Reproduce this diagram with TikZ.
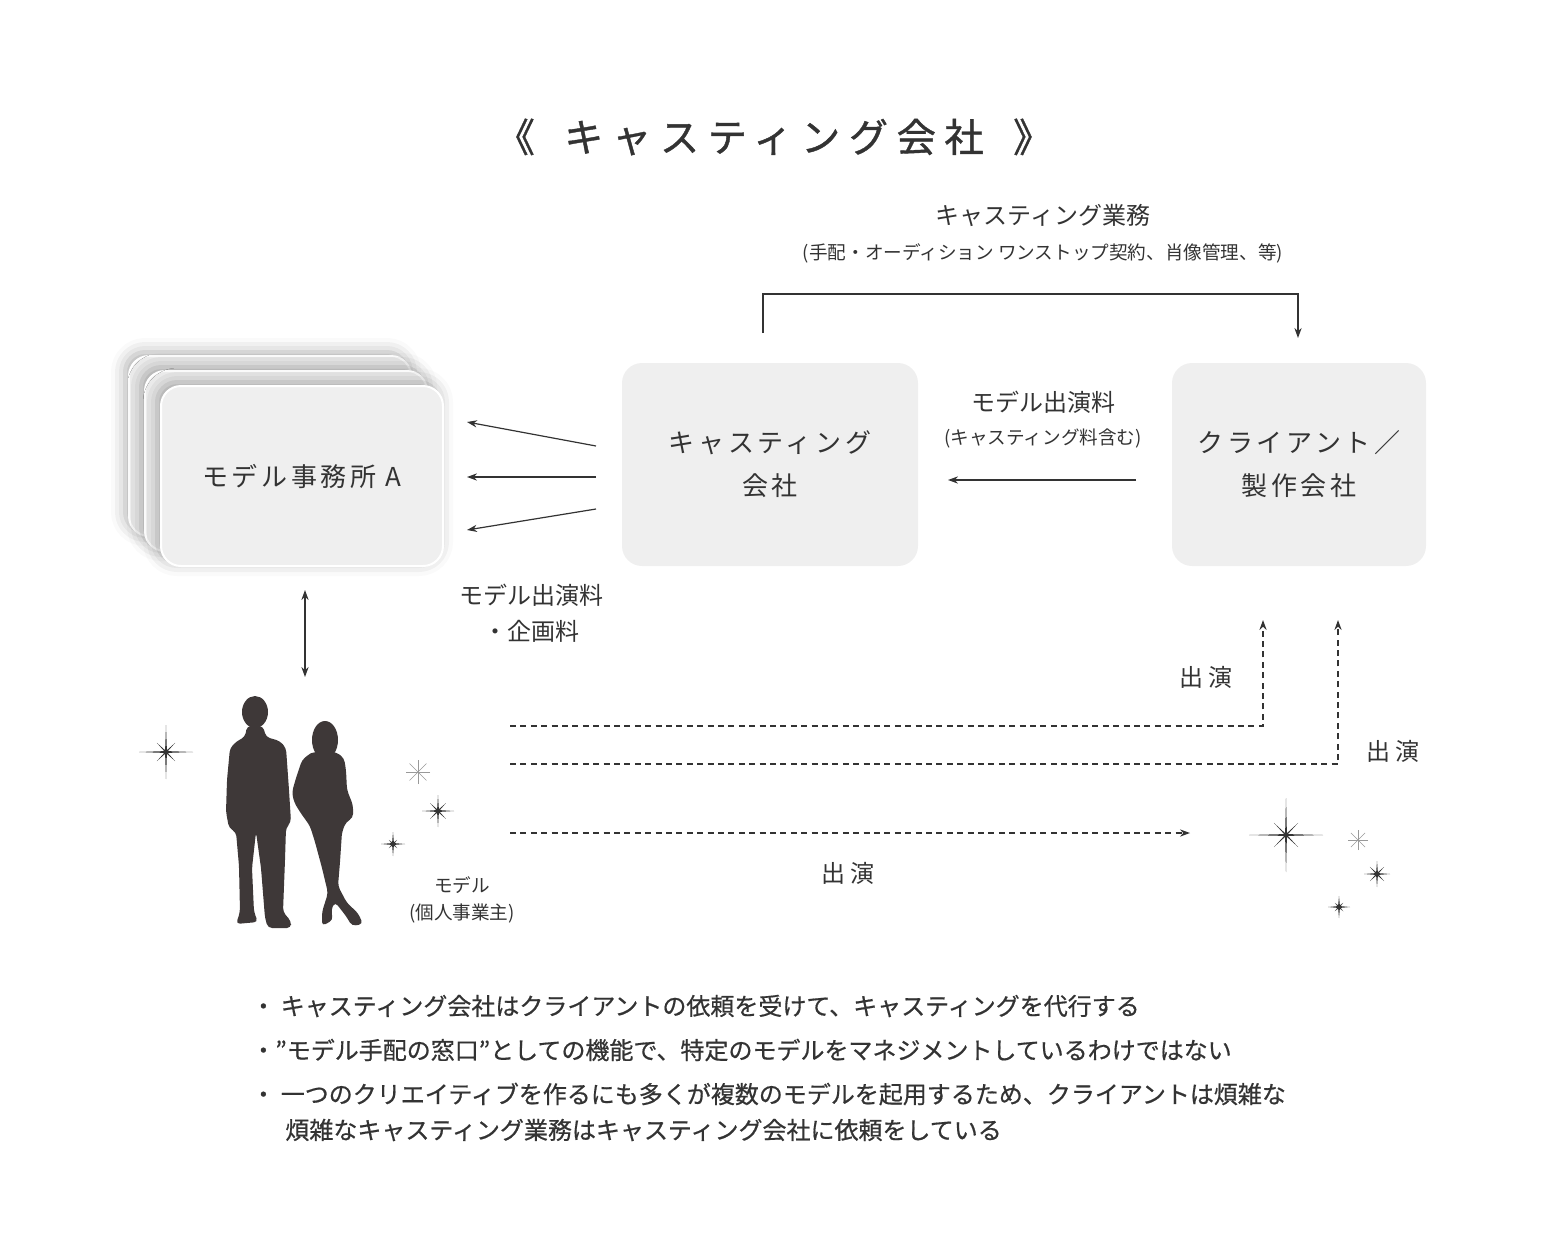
\documentclass[tikz,border=0pt]{standalone}
\usepackage{fontspec}
\setmainfont{Noto Sans CJK JP}
\usepackage{tikz}
\usetikzlibrary{arrows.meta,shadows.blur}

\definecolor{ink}{HTML}{333333}
\definecolor{boxgray}{HTML}{EFEFEF}
\definecolor{figgray}{HTML}{3E3838}

\newcommand{\titlefont}{\fontsize{19.6pt}{23pt}\selectfont\addfontfeature{LetterSpace=22,FakeBold=1}}
\newcommand{\boxfont}{\fontsize{13pt}{21.5pt}\selectfont\addfontfeature{LetterSpace=14}}
\newcommand{\feefont}{\fontsize{12pt}{18pt}\selectfont}
\newcommand{\smallfont}{\fontsize{9.3pt}{13.5pt}\selectfont}
\newcommand{\notefont}{\fontsize{12pt}{16pt}\selectfont\addfontfeature{FakeBold=0.6}}

% sparkle: centre, long ray, short ray
\newcommand{\twinkle}[3]{%
  \fill[ink, shift={#1}] (0:#2) -- (45:1.3) -- (90:#2) -- (135:1.3) -- (180:#2)
    -- (225:1.3) -- (270:#2) -- (315:1.3) -- cycle;
  \fill[ink, shift={#1}] (45:#3) -- (90:1) -- (135:#3) -- (180:1) -- (225:#3)
    -- (270:1) -- (315:#3) -- (0:1) -- cycle;
}
% thin light sparkle
\newcommand{\glint}[2]{%
  \foreach \a in {0,45,90,135}
    \draw[gray!80, line width=0.3pt, shift={#1}] (\a:#2) -- (\a+180:#2);
}

\begin{document}
\begin{tikzpicture}[x=0.5pt, y=-0.5pt,
  card/.style={draw=white, line width=1pt, fill=boxgray, rounded corners=10pt,
    minimum width=141pt, minimum height=90pt, text=ink, font=\boxfont,
    blur shadow={shadow xshift=-2pt, shadow yshift=2pt, shadow blur radius=7pt, shadow opacity=32}},
  panel/.style={fill=boxgray, rounded corners=10pt, minimum height=101.5pt,
    text=ink, align=center, font=\boxfont},
  flow/.style={-{Stealth[length=5pt,width=3.6pt]}, draw=ink, line width=0.6pt},
  flowdash/.style={flow, dash pattern=on 3pt off 2.2pt},
  feetext/.style={text=ink, align=center, font=\feefont},
  smalltext/.style={text=ink, align=center, font=\smallfont},
  notetext/.style={text=ink, anchor=west, inner sep=0pt, font=\notefont}]

    \useasboundingbox (0,0) rectangle (1553,1248);

    % Define nodes
    \node[text=ink, font=\titlefont] (title) at (774,137) {《\hspace{0.75em}キャスティング会社\hspace{0.75em}》};

    \node[card] (agencyc) at (270,446) {};
    \node[card] (agencyb) at (286,461) {};
    \node[card] (agency) at (302,476) {モデル事務所 A};

    \node[panel, minimum width=148pt] (casting) at (770,464.5) {キャスティング\\会社};
    \node[panel, minimum width=127pt] (client) at (1299,464.5) {クライアント／\\製作会社};

    \node[feetext] (work) at (1043,215) {キャスティング業務};
    \node[smalltext] (workdetail) at (1043,253) {(手配・オーディション ワンストップ契約、肖像管理、等)};
    \node[feetext] (fee) at (1043,402) {モデル出演料};
    \node[smalltext] (feedetail) at (1043,438) {(キャスティング料含む)};
    \node[feetext] (agencyfee) at (531,613) {モデル出演料\\・企画料};

    \node[smalltext] (model) at (462,900) {モデル\\(個人事業主)};
    \node[feetext] (act1) at (1206,677) {出 演};
    \node[feetext] (act2) at (1393,751) {出 演};
    \node[feetext] (act3) at (848,873) {出 演};

    \node[notetext] (note1) at (251,1006) {・ キャスティング会社はクライアントの依頼を受けて、キャスティングを代行する};
    \node[notetext] (note2) at (251,1050) {・”モデル手配の窓口”としての機能で、特定のモデルをマネジメントしているわけではない};
    \node[notetext] (note3) at (251,1094) {・ 一つのクリエイティブを作るにも多くが複数のモデルを起用するため、クライアントは煩雑な};
    \node[notetext] (note4) at (285,1130) {煩雑なキャスティング業務はキャスティング会社に依頼をしている};

    \coordinate (f1) at (596,446);
    \coordinate (f2) at (596,477);
    \coordinate (f3) at (596,509);
    \coordinate (t1) at (467,422);
    \coordinate (t2) at (467,477);
    \coordinate (t3) at (467,530);
    \coordinate (pay) at (1136,480);
    \coordinate (paid) at (948,480);
    \coordinate (bs) at (763,333);
    \coordinate (be) at (1298,338);
    \coordinate (ma) at (305,590);
    \coordinate (mb) at (305,677);
    \coordinate (d1) at (510,726);
    \coordinate (e1) at (1263,620);
    \coordinate (d2) at (510,764);
    \coordinate (e2) at (1338,620);
    \coordinate (d3) at (510,833);
    \coordinate (e3) at (1190,833);

    % Draw arrows
    \draw[flow] (f1) -- (t1);
    \draw[flow] (f2) -- (t2);
    \draw[flow] (f3) -- (t3);
    \draw[flow] (pay) -- (paid);
    \draw[flow] (bs) -- ++(0,-39) -| (be);
    \draw[flow, {Stealth[length=5pt,width=3.6pt]}-{Stealth[length=5pt,width=3.6pt]}] (ma) -- (mb);
    \draw[flowdash] (d1) -| (e1);
    \draw[flowdash] (d2) -| (e2);
    \draw[flowdash] (d3) -- (e3);

    % models
    \fill[figgray] (255,712) ellipse [x radius=13, y radius=16];
    \fill[figgray, rounded corners=2] (247,726) -- (263,726) -- (266,737) -- (280,741)
      -- (286,748) -- (289,790) -- (291,822) -- (286,828) -- (285,860) -- (283,912)
      -- (291,921) -- (291,928) -- (268,928) -- (265,918) -- (261,868) -- (256,832)
      -- (252,868) -- (254,912) -- (258,922) -- (236,924) -- (240,912) -- (239,866)
      -- (236,832) -- (229,828) -- (226,812) -- (227,780) -- (230,748) -- (237,741)
      -- (245,737) -- cycle;
    \fill[figgray] (325,740) ellipse [x radius=13, y radius=19];
    \fill[figgray, rounded corners=2] (313,752) -- (336,752) -- (344,758) -- (346,770)
      -- (347,790) -- (353,805) -- (353,818) -- (346,822) -- (342,832) -- (340,862)
      -- (338,886) -- (347,903) -- (358,913) -- (363,924) -- (352,926) -- (346,916)
      -- (335,902) -- (331,910) -- (333,920) -- (322,926) -- (322,912) -- (328,893)
      -- (322,868) -- (315,842) -- (310,826) -- (300,812) -- (294,802) -- (292,792)
      -- (296,778) -- (302,760) -- (308,755) -- cycle;

    % sparkles
    \twinkle{(166,752)}{27}{13}
    \twinkle{(438,811)}{16}{11}
    \twinkle{(393,844)}{12}{6}
    \glint{(418,772)}{12}
    \twinkle{(1286,835)}{37}{17}
    \twinkle{(1377,874)}{13}{10}
    \twinkle{(1339,907)}{11}{6}
    \glint{(1358,840)}{10}
\end{tikzpicture}
\end{document}
